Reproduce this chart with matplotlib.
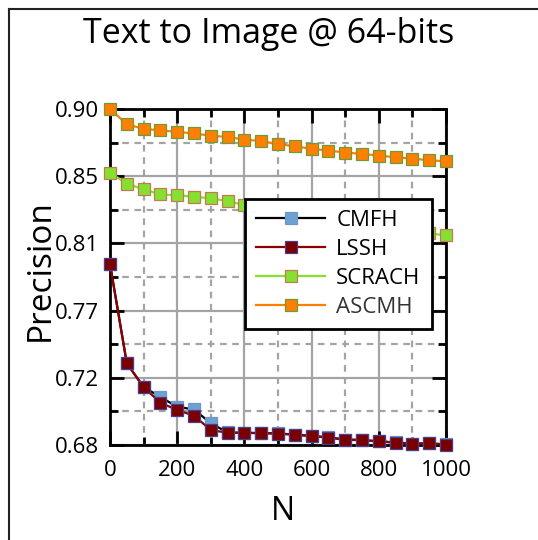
import matplotlib
matplotlib.use('Agg')
import matplotlib.pyplot as plt
from matplotlib.lines import Line2D
import numpy as np

plt.rcParams['font.family'] = ['Open Sans', 'DejaVu Sans']

# values
n_bits = [0, 50, 100, 150, 200, 250, 300, 350, 400, 450, 500,
          550, 600, 650, 700, 750, 800, 850, 900, 950, 1000]
cmfh = [0.7985, 0.7335, 0.7180, 0.7114, 0.7050, 0.7033, 0.6942, 0.6882, 0.6880, 0.6878, 0.6876,
        0.6868, 0.6860, 0.6850, 0.6836, 0.6833, 0.6824, 0.6817, 0.6809, 0.6811, 0.6804]
lssh = [0.7985, 0.7335, 0.7178, 0.7077, 0.7029, 0.6992, 0.6898, 0.6880, 0.6880, 0.6877, 0.6875,
        0.6867, 0.6858, 0.6849, 0.6834, 0.6832, 0.6823, 0.6816, 0.6808, 0.6810, 0.6803]
scrach = [0.8583, 0.8511, 0.8474, 0.8441, 0.8435, 0.8426, 0.8415, 0.8397, 0.8371, 0.8350, 0.8330,
          0.8310, 0.8290, 0.8270, 0.8250, 0.8240, 0.8230, 0.8220, 0.8210, 0.8185, 0.8173]
ascmh = [0.9000, 0.8900, 0.8870, 0.8860, 0.8850, 0.8840, 0.8825, 0.8817, 0.8800, 0.8790, 0.8770,
         0.8756, 0.8739, 0.8728, 0.8715, 0.8706, 0.8695, 0.8684, 0.8675, 0.8664, 0.8658]

y_ticks = [0.68, 0.724, 0.768, 0.812, 0.856, 0.90]
y_labels = ['0.68', '0.72', '0.77', '0.81', '0.85', '0.90']
x_ticks = [0, 200, 400, 600, 800, 1000]

fig = plt.figure(figsize=(5.38, 5.40), dpi=100)
ax = fig.add_axes([110 / 538, 1 - 445 / 540, 336 / 538, 336 / 540])

series = [
    ('CMFH', cmfh, 'black', '#6fa0d2', '#6f98c8'),
    ('LSSH', lssh, '#8b0000', '#7a0000', '#4a3f8f'),
    ('SCRACH', scrach, '#86e030', '#86e030', '#c07a55'),
    ('ASCMH', ascmh, '#ff8000', '#ff7f00', '#6f9a3a'),
]
for name, vals, lc, fc, ec in series:
    ax.plot(n_bits, vals, color=lc, lw=1.6, marker='s', ms=8,
            mfc=fc, mec=ec, mew=0.9, label=name, clip_on=False, zorder=3)

ax.set_xlim(0, 1000)
ax.set_ylim(0.68, 0.90)
ax.set_xticks(x_ticks)
ax.set_xticks(np.arange(100, 1000, 200), minor=True)
ax.set_yticks(y_ticks)
ax.set_yticklabels(y_labels)
ax.set_yticks([(a + b) / 2 for a, b in zip(y_ticks[:-1], y_ticks[1:])], minor=True)

ax.grid(which='major', color='#a4a4a4', lw=1.6, ls='-')
ax.grid(which='minor', color='#a4a4a4', lw=1.6, ls=(0, (3, 2.5)))
ax.set_axisbelow(True)

ax.tick_params(which='both', direction='in', top=True, right=True,
               width=2, color='black', labelsize=16)
ax.tick_params(which='major', length=10)
ax.tick_params(which='minor', length=6)
ax.tick_params(axis='x', pad=11)
ax.tick_params(axis='y', pad=8)
for s in ax.spines.values():
    s.set_linewidth(2)
    s.set_color('black')

ax.set_xlabel('N', fontsize=23)
ax.xaxis.set_label_coords(0.515, -0.223)
ax.xaxis.label.set_va('baseline')
ax.set_ylabel('Precision', fontsize=24)
ax.yaxis.set_label_coords(-0.208, 0.52)
ax.yaxis.label.set_va('center')

leg = ax.legend(loc='upper left', bbox_to_anchor=(0.402, 0.732), borderaxespad=0,
                fontsize=16, handlelength=3.1, labelspacing=0.36,
                fancybox=False, framealpha=1, edgecolor='black',
                borderpad=0.5, handletextpad=0.5)
leg.get_frame().set_linewidth(2)
leg.texts[3].set_color('#333333')

fig.text(0.5, 1 - 43 / 540, 'Text to Image @ 64-bits', ha='center', va='baseline',
         fontsize=24.5)

# outer frame of the original figure (only left and top edges visible)
fig.add_artist(Line2D([9 / 538, 9 / 538], [0, 1 - 9 / 540], color='#222222', lw=1.5,
                      transform=fig.transFigure))
fig.add_artist(Line2D([9 / 538, 1], [1 - 9 / 540, 1 - 9 / 540], color='#222222', lw=1.5,
                      transform=fig.transFigure))

fig.savefig('out.png', dpi=100)
